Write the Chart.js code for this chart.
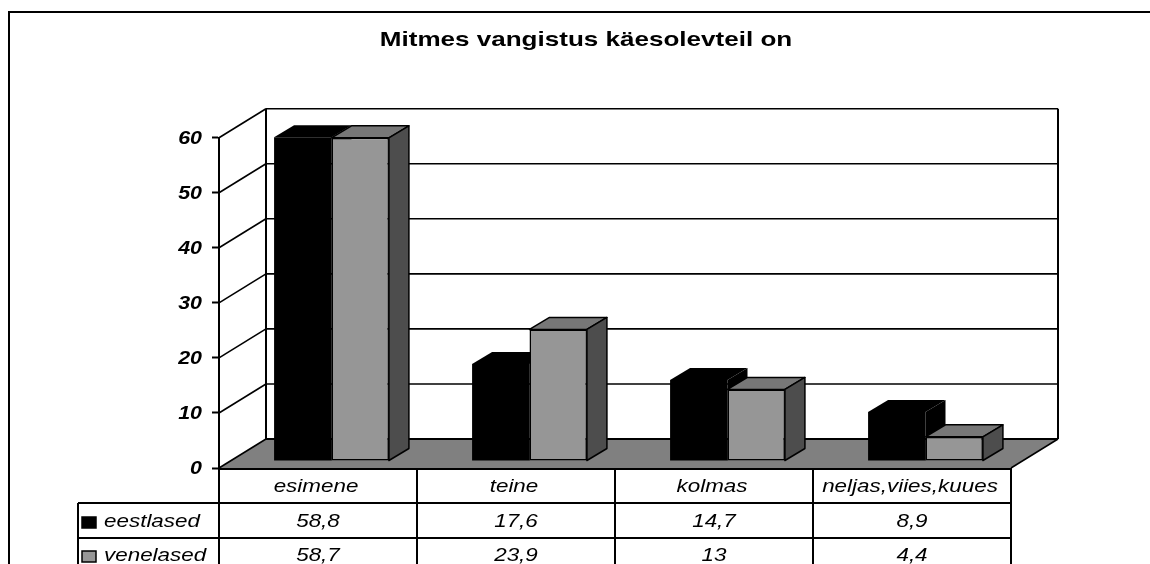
<!DOCTYPE html>
<html>
<head>
<meta charset="utf-8">
<title>Mitmes vangistus</title>
<script src="https://cdn.jsdelivr.net/npm/chart.js@4"></script>
<style>
    html, body { margin: 0; padding: 0; background: #fff; overflow: hidden; }
    canvas { display: block; }
</style>
</head>
<body>
<canvas id="grafico" width="1150" height="564"></canvas>
<script>
const titulo = 'Mitmes vangistus käesolevteil on';
const categories = ['esimene', 'teine', 'kolmas', 'neljas,viies,kuues'];
const eestlased = [58.8, 17.6, 14.7, 8.9];
const venelased = [58.7, 23.9, 13, 4.4];
const seriesNames = ['eestlased', 'venelased'];
const yTicks = [0, 10, 20, 30, 40, 50, 60];

const fontFamily = '"Liberation Sans", Arial, sans-serif';
const faces = [
    { top: '#000000', side: '#000000', line: null },
    { top: '#777777', side: '#4d4d4d', line: '#000000' }
];

// depth of the box and of each bar, the library has no 3d so a plugin adds it
const wall = { dx: 47, dy: 29 };
const shift = { dx: 13.5, dy: 7 };
const bar = { dx: 20, dy: 12 };
const table = { left: 78, rows: [503, 538], bottom: 564, rowMid: [487, 522, 556] };
// the reference text is wider than the font, stretched sideways
const stretch = { title: 1.24, text: 1.18, ticks: 1.19 };

function line(ctx, x1, y1, x2, y2) {
    ctx.beginPath();
    ctx.moveTo(x1, y1);
    ctx.lineTo(x2, y2);
    ctx.stroke();
}

function poly(ctx, pts, fill, stroke) {
    ctx.beginPath();
    pts.forEach((p, i) => i ? ctx.lineTo(p[0], p[1]) : ctx.moveTo(p[0], p[1]));
    ctx.closePath();
    ctx.fillStyle = fill;
    ctx.fill();
    if (stroke) {
        ctx.strokeStyle = stroke;
        ctx.lineWidth = 1.5;
        ctx.lineJoin = 'round';
        ctx.stroke();
    }
}

function drawFaces(ctx, meta, f) {
    meta.data.forEach((el) => {
        const l = el.x - el.width / 2;
        const r = el.x + el.width / 2;
        poly(ctx, [[l, el.y], [l + bar.dx, el.y - bar.dy], [r + bar.dx, el.y - bar.dy], [r, el.y]], f.top, f.line);
        poly(ctx, [[r, el.y], [r + bar.dx, el.y - bar.dy], [r + bar.dx, el.base - bar.dy], [r, el.base]], f.side, f.line);
    });
}

function wideText(ctx, text, x, y, k) {
    ctx.save();
    ctx.translate(x, y);
    ctx.scale(k, 1);
    ctx.fillText(text, 0, 0);
    ctx.restore();
}

// wraps a draw method of a layout box so what it draws is stretched around x
function widen(box, method, x, k, dy) {
    const orig = box[method];
    box[method] = function (area) {
        const ctx = this.ctx;
        ctx.save();
        ctx.translate(x, dy);
        ctx.scale(k, 1);
        ctx.translate(-x, 0);
        orig.call(this, area);
        ctx.restore();
    };
}

const kast3d = {
    id: 'kast3d',
    afterLayout(chart) {
        // title is centred over the picture's plot block, not the chart area
        chart.titleBlock.left = 22;
        chart.titleBlock.right = 1150;
        if (!chart.$ancho) {
            chart.$ancho = true;
            widen(chart.titleBlock, 'draw', 586, stretch.title, 0);
            widen(chart.scales.y, 'drawLabels', 202, stretch.ticks, 1);
        }
    },
    beforeDatasetsDraw(chart) {
        const ctx = chart.ctx;
        const { left, right, top, bottom } = chart.chartArea;
        const y = chart.scales.y;
        ctx.save();
        // floor
        poly(ctx, [[left, bottom], [left + wall.dx, bottom - wall.dy],
            [right + wall.dx, bottom - wall.dy], [right, bottom]], '#808080', null);
        ctx.strokeStyle = '#000';
        ctx.lineWidth = 1.6;
        yTicks.forEach((t) => {
            const py = y.getPixelForValue(t);
            line(ctx, left, py, left + wall.dx, py - wall.dy);
            line(ctx, left + wall.dx, py - wall.dy, right + wall.dx, py - wall.dy);
        });
        ctx.lineWidth = 2;
        line(ctx, left + wall.dx, top - wall.dy, left + wall.dx, bottom - wall.dy);
        line(ctx, right + wall.dx, top - wall.dy, right + wall.dx, bottom - wall.dy);
        line(ctx, left + wall.dx, bottom - wall.dy, right + wall.dx, bottom - wall.dy);
        ctx.lineWidth = 1.5;
        line(ctx, right, bottom, right + wall.dx, bottom - wall.dy);

        // depth of the black bars goes under the grey bars
        ctx.translate(shift.dx, -shift.dy);
        drawFaces(ctx, chart.getDatasetMeta(0), faces[0]);
        ctx.restore();
    },
    beforeDatasetDraw(chart) {
        chart.ctx.save();
        chart.ctx.translate(shift.dx, -shift.dy);
    },
    afterDatasetDraw(chart, args) {
        if (args.index === 1) {
            drawFaces(chart.ctx, args.meta, faces[1]);
        }
        chart.ctx.restore();
    },
    afterDraw(chart) {
        const ctx = chart.ctx;
        const { left, right, bottom } = chart.chartArea;
        const x = chart.scales.x;
        ctx.save();

        // outer frame, the picture is cut at right and bottom
        ctx.strokeStyle = '#000';
        ctx.lineWidth = 2;
        line(ctx, 9, 12, 1150, 12);
        line(ctx, 9, 11, 9, 564);

        // data table
        line(ctx, left, bottom + 1, right, bottom + 1);
        line(ctx, table.left, table.rows[0], right, table.rows[0]);
        line(ctx, table.left, table.rows[1], right, table.rows[1]);
        line(ctx, table.left, table.rows[0], table.left, table.bottom);
        for (let i = 0; i <= categories.length; i++) {
            const px = left + (right - left) * i / categories.length;
            line(ctx, px, bottom, px, table.bottom);
        }

        ctx.fillStyle = '#000';
        ctx.font = 'italic 19px ' + fontFamily;
        ctx.textBaseline = 'middle';
        ctx.textAlign = 'center';
        categories.forEach((c, i) => {
            const px = x.getPixelForTick(i);
            wideText(ctx, c, px - 2, table.rowMid[0], stretch.text);
            chart.data.datasets.forEach((ds, d) => {
                wideText(ctx, String(ds.data[i]).replace('.', ','), px, table.rowMid[d + 1], stretch.text);
            });
        });

        // legend inside the table
        ctx.textAlign = 'left';
        chart.data.datasets.forEach((ds, d) => {
            const my = table.rowMid[d + 1];
            ctx.fillStyle = ds.backgroundColor;
            ctx.fillRect(82, my - 5, 14, 11);
            ctx.strokeStyle = '#000';
            ctx.lineWidth = 1.5;
            ctx.strokeRect(82, my - 5, 14, 11);
            ctx.fillStyle = '#000';
            wideText(ctx, seriesNames[d], 104, my, stretch.text);
        });
        ctx.restore();
    }
};

new Chart(document.getElementById('grafico').getContext('2d'), {
    type: 'bar',
    plugins: [kast3d],
    data: {
        labels: categories,
        datasets: [
            { label: seriesNames[0], data: eestlased, backgroundColor: '#000000', clip: false },
            { label: seriesNames[1], data: venelased, backgroundColor: '#969696', borderColor: '#000000', borderWidth: 1.5, borderSkipped: false, clip: false }
        ]
    },
    options: {
        responsive: false,
        animation: false,
        devicePixelRatio: 1,
        categoryPercentage: 0.58,
        barPercentage: 1,
        layout: { padding: { left: 9, right: 139, top: 0, bottom: 96 } },
        plugins: {
            legend: { display: false },
            tooltip: { enabled: false },
            title: {
                display: true,
                text: titulo,
                color: '#000',
                font: { family: fontFamily, size: 21, weight: 'bold', lineHeight: 1.2 },
                padding: { top: 28, bottom: 84.5 }
            }
        },
        scales: {
            x: {
                afterFit(s) { s.height = 0; },
                ticks: { display: false },
                grid: { display: false, drawTicks: false },
                border: { display: false }
            },
            y: {
                min: 0,
                max: 60,
                afterFit(s) { s.width = 210; },
                ticks: {
                    stepSize: 10,
                    padding: 10,
                    color: '#000',
                    font: { family: fontFamily, size: 18, style: 'italic', weight: 'bold' }
                },
                grid: { drawOnChartArea: false, tickLength: 7, tickColor: '#000', tickWidth: 2 },
                border: { color: '#000', width: 2 }
            }
        }
    }
});
</script>
</body>
</html>
